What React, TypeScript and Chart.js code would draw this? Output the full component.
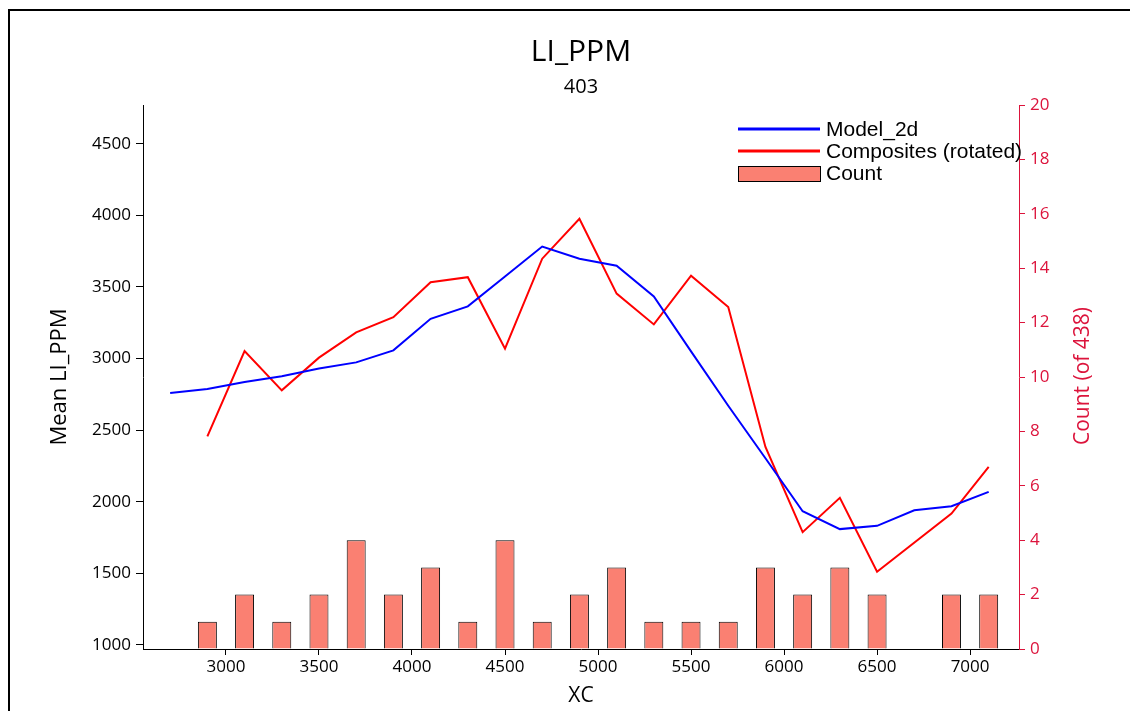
import React, { useEffect, useRef } from "react";
import { Chart, registerables } from "chart.js";

Chart.register(...registerables);

const TITLE = "LI_PPM";
const SUBTITLE = "403";
const X_TITLE = "XC";
const Y_TITLE = "Mean LI_PPM";
const Y2_TITLE = "Count (of 438)";
const MODEL_LABEL = "Model_2d";
const COMP_LABEL = "Composites (rotated)";
const COUNT_LABEL = "Count";

const modelX = [2700, 2900, 3100, 3300, 3500, 3700, 3900, 4100, 4300, 4500, 4700, 4900, 5100, 5300, 5500, 5700, 5900, 6100, 6300, 6500, 6700, 6900, 7100];
const modelY = [2759, 2787, 2836, 2876, 2930, 2973, 3057, 3277, 3364, 3573, 3782, 3697, 3648, 3434, 3050, 2670, 2304, 1934, 1809, 1832, 1941, 1969, 2069];

const compX = [2900, 3100, 3300, 3500, 3700, 3900, 4100, 4300, 4500, 4700, 4900, 5100, 5300, 5500, 5700, 5900, 6100, 6300, 6500, 6900, 7100];
const compY = [2457, 3052, 2778, 3006, 3183, 3289, 3533, 3568, 3069, 3697, 3976, 3453, 3238, 3578, 3359, 2383, 1788, 2027, 1511, 1918, 2243];

const countX = [2900, 3100, 3300, 3500, 3700, 3900, 4100, 4300, 4500, 4700, 4900, 5100, 5300, 5500, 5700, 5900, 6100, 6300, 6500, 6900, 7100];
const countY = [1, 2, 1, 2, 4, 2, 3, 1, 4, 1, 2, 3, 1, 1, 1, 3, 2, 3, 2, 2, 2];

const xTicks = [3000, 3500, 4000, 4500, 5000, 5500, 6000, 6500, 7000];
const leftTicks = [1000, 1500, 2000, 2500, 3000, 3500, 4000, 4500];
const rightTicks = [0, 2, 4, 6, 8, 10, 12, 14, 16, 18, 20];

const X_MIN = 2554;
const X_MAX = 7263;
const Y_MIN = 972;
const Y_MAX = 4770;
const Y2_MIN = 0;
const Y2_MAX = 20;

const BLUE = "#0000ff";
const RED = "#ff0000";
const SALMON = "#fa8072";
const CRIMSON = "#dc143c";
const TICK_FONT = { family: "'Open Sans', sans-serif", size: 17 };
const plain = (v: any) => String(v);

const overlayPlugin = {
  id: "overlay",
  afterDraw(chart: any) {
    const ctx = chart.ctx;
    ctx.save();
    ctx.fillStyle = "#000";
    ctx.textAlign = "center";
    ctx.textBaseline = "middle";
    ctx.font = "30px 'Open Sans', sans-serif";
    ctx.fillText(TITLE, 581, 52);
    ctx.font = "20px 'Open Sans', sans-serif";
    ctx.fillText(SUBTITLE, 581, 87);

    ctx.save();
    ctx.translate(1083, 376);
    ctx.rotate(-Math.PI / 2);
    ctx.fillStyle = CRIMSON;
    ctx.font = "21px 'Open Sans', sans-serif";
    ctx.fillText(Y2_TITLE, 0, 0);
    ctx.restore();

    const lx0 = 738;
    const lx1 = 820;
    ctx.lineWidth = 3;
    ctx.strokeStyle = BLUE;
    ctx.beginPath();
    ctx.moveTo(lx0, 129);
    ctx.lineTo(lx1, 129);
    ctx.stroke();
    ctx.strokeStyle = RED;
    ctx.beginPath();
    ctx.moveTo(lx0, 151);
    ctx.lineTo(lx1, 151);
    ctx.stroke();
    ctx.fillStyle = SALMON;
    ctx.fillRect(lx0, 166, lx1 - lx0, 15);
    ctx.lineWidth = 1;
    ctx.strokeStyle = "#000";
    ctx.strokeRect(lx0 + 0.5, 166.5, lx1 - lx0, 15);
    ctx.fillStyle = "#000";
    ctx.textAlign = "left";
    ctx.font = "21px 'Liberation Sans', Arial, sans-serif";
    ctx.fillText(MODEL_LABEL, 826, 130);
    ctx.fillText(COMP_LABEL, 826, 152);
    ctx.fillText(COUNT_LABEL, 826, 174);
    ctx.restore();
  },
};

export default function App() {
  const canvasRef = useRef<HTMLCanvasElement | null>(null);

  useEffect(() => {
    const canvas = canvasRef.current;
    if (!canvas) return;
    const chart = new Chart(canvas, {
      type: "bar",
      data: {
        datasets: [
          {
            type: "line",
            label: MODEL_LABEL,
            data: modelX.map((x, i) => ({ x, y: modelY[i] })),
            borderColor: BLUE,
            backgroundColor: BLUE,
            borderWidth: 2,
            pointRadius: 0,
            tension: 0,
            yAxisID: "y",
            order: 1,
          },
          {
            type: "line",
            label: COMP_LABEL,
            data: compX.map((x, i) => ({ x, y: compY[i] })),
            borderColor: RED,
            backgroundColor: RED,
            borderWidth: 2,
            pointRadius: 0,
            tension: 0,
            spanGaps: true,
            yAxisID: "y",
            order: 2,
          },
          {
            type: "bar",
            label: COUNT_LABEL,
            data: countX.map((x, i) => ({ x, y: countY[i] })),
            backgroundColor: SALMON,
            borderColor: "#000",
            borderWidth: 1,
            borderSkipped: "bottom",
            barPercentage: 0.51,
            categoryPercentage: 1,
            yAxisID: "y2",
            order: 3,
          },
        ] as any,
      },
      options: {
        animation: false,
        responsive: false,
        devicePixelRatio: 1,
        layout: { padding: { top: 105, left: 0, right: 0, bottom: 0 } },
        plugins: {
          legend: { display: false },
          tooltip: { enabled: false },
          title: { display: false },
        },
        scales: {
          x: {
            type: "linear",
            position: "bottom",
            offset: false,
            min: X_MIN,
            max: X_MAX,
            afterBuildTicks: (s: any) => {
              s.ticks = xTicks.map((v) => ({ value: v }));
            },
            afterFit: (s: any) => {
              s.height = 62;
            },
            grid: { display: true, offset: false, drawOnChartArea: false, drawTicks: true, tickLength: 6, color: "#000" },
            border: { display: true, color: "#000", width: 1 },
            ticks: { color: "#000", font: TICK_FONT, padding: 2, maxRotation: 0, autoSkip: false, callback: plain },
            title: {
              display: true,
              text: X_TITLE,
              color: "#000",
              font: { family: "'Open Sans', sans-serif", size: 21 },
              padding: { top: 0, bottom: 2 },
            },
          },
          y: {
            type: "linear",
            position: "left",
            min: Y_MIN,
            max: Y_MAX,
            afterBuildTicks: (s: any) => {
              s.ticks = leftTicks.map((v) => ({ value: v }));
            },
            afterFit: (s: any) => {
              s.width = 143;
            },
            grid: { display: true, drawOnChartArea: false, drawTicks: true, tickLength: 7, color: "#000" },
            border: { display: true, color: "#000", width: 1 },
            ticks: { color: "#000", font: TICK_FONT, padding: 5, autoSkip: false, callback: plain },
            title: {
              display: true,
              text: Y_TITLE,
              color: "#000",
              font: { family: "'Open Sans', sans-serif", size: 22 },
              padding: { top: 47, bottom: 0 },
            },
          },
          y2: {
            type: "linear",
            position: "right",
            min: Y2_MIN,
            max: Y2_MAX,
            afterBuildTicks: (s: any) => {
              s.ticks = rightTicks.map((v) => ({ value: v }));
            },
            afterFit: (s: any) => {
              s.width = 111;
            },
            grid: { display: true, drawOnChartArea: false, drawTicks: true, tickLength: 6, color: CRIMSON },
            border: { display: true, color: CRIMSON, width: 1 },
            ticks: { color: CRIMSON, font: TICK_FONT, padding: 5, autoSkip: false, callback: plain },
          },
        },
      } as any,
      plugins: [overlayPlugin],
    });
    return () => chart.destroy();
  }, []);

  return (
    <div
      style={{
        position: "fixed",
        left: 0,
        top: 0,
        width: 1130,
        height: 711,
        overflow: "hidden",
        background: "#fff",
      }}
    >
      <div
        style={{
          position: "absolute",
          left: 8,
          top: 9,
          width: 1200,
          height: 800,
          border: "2px solid #000",
          boxSizing: "border-box",
        }}
      />
      <canvas
        ref={canvasRef}
        width={1130}
        height={711}
        style={{ position: "absolute", left: 0, top: 0, width: 1130, height: 711 }}
      />
    </div>
  );
}
